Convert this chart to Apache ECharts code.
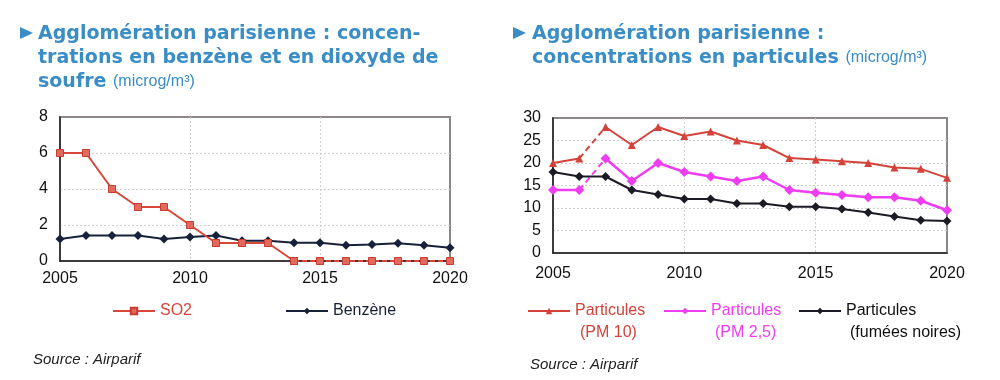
<!DOCTYPE html>
<html>
<head>
<meta charset="utf-8">
<script src="https://cdn.jsdelivr.net/npm/echarts@6/dist/echarts.min.js"></script>
<style>
html,body{margin:0;padding:0;background:#fff;}
#chart{width:1000px;height:380px;}
</style>
</head>
<body>
<div id="chart"></div>
<script>
// ---- Data ----
const years = [2005,2006,2007,2008,2009,2010,2011,2012,2013,2014,2015,2016,2017,2018,2019,2020];
const so2 = [6,6,4,3,3,2,1,1,1,0,0,0,0,0,0,0];
const benzene = [1.22,1.42,1.42,1.42,1.22,1.33,1.42,1.13,1.13,1.02,1.02,0.87,0.92,0.98,0.87,0.74];
const pm10 = [20,21,28,24,28,26,27,25,24,21.1,20.8,20.4,20,19,18.7,16.7];
const pm25 = [14,14,21,16,20,18,17,16,17,14,13.4,12.9,12.4,12.4,11.6,9.5];
const fumees = [18,17,17,14,13,12,12,11,11,10.3,10.3,9.8,9,8.1,7.3,7.1];
const xTicks = [2005,2010,2015,2020];
const leftTicks = [0,2,4,6,8];
const rightTicks = [0,5,10,15,20,25,30];
const legendLine1 = 'Particules';
const legendLine2 = ['(PM 10)', '(PM 2,5)', '(fumées noires)'];

const FONT = 'Liberation Sans';
const TFONT = 'DejaVu Sans';
const BLUE = '#3a8dc5';
const C_SO2 = '#d9473b';
const C_BENZ = '#17213a';
const C_PM10 = '#d4433a';
const C_PM25 = '#ee3df0';
const C_FUM = '#1b1b26';

function seg(vals, a, b){
  return years.map((y,i)=>[y, (i>=a && i<=b) ? vals[i] : null]);
}
function all(vals){ return years.map((y,i)=>[y, vals[i]]); }

function xAxis(gi, margin){
  return {
    type:'value', gridIndex:gi, min:xTicks[0], max:xTicks[xTicks.length-1], interval:5,
    axisLine:{show:true, onZero:false, lineStyle:{color:'#222', width:1.5}},
    axisTick:{show:false},
    axisLabel:{color:'#111', fontSize:16, fontFamily:FONT, margin:margin, formatter:v=>String(v)},
    splitLine:{show:true, showMinLine:false, showMaxLine:false,
      lineStyle:{color:'#cfcfcf', type:[2,2], width:1}}
  };
}
function yAxis(gi, ticks){
  return {
    type:'value', gridIndex:gi, min:ticks[0], max:ticks[ticks.length-1], interval:ticks[1]-ticks[0],
    axisLine:{show:true, onZero:false, lineStyle:{color:'#222', width:1.5}},
    axisTick:{show:false},
    axisLabel:{color:'#111', fontSize:16, fontFamily:FONT, margin:12},
    splitLine:{show:true, showMinLine:false, showMaxLine:false,
      lineStyle:{color:'#cfcfcf', type:[2,2], width:1}}
  };
}

function legend(name, left, top, color, multi){
  return {
    data:[{name:name, textStyle:{color:color}}],
    left:left, top:top, itemWidth:42, itemHeight:8, itemGap:0, padding:0,
    textStyle:{color:color, fontSize:16, fontFamily:FONT},
    formatter: multi ? (()=>legendLine1) : undefined
  };
}
function line2(i, x, color){
  return {type:'text', left:x, top:325, style:{text:legendLine2[i], fill:color, font:'16px "Liberation Sans"'}};
}

const option = {
  animation:false,
  backgroundColor:'#fff',
  textStyle:{fontFamily:FONT},
  title:[
    {
      text:'Agglomération parisienne : concen-\ntrations en benzène et en dioxyde de\nsoufre {u|(microg/m³)}',
      left:38, top:22, padding:0,
      textStyle:{color:BLUE, fontSize:19, fontWeight:'bold', fontFamily:TFONT, lineHeight:24,
        rich:{u:{color:BLUE, fontSize:16, fontWeight:'normal', fontFamily:FONT, lineHeight:24}}}
    },
    {
      text:'Agglomération parisienne :\nconcentrations en particules {u|(microg/m³)}',
      left:532, top:22, padding:0,
      textStyle:{color:BLUE, fontSize:19, fontWeight:'bold', fontFamily:TFONT, lineHeight:24,
        rich:{u:{color:BLUE, fontSize:16, fontWeight:'normal', fontFamily:FONT, lineHeight:24}}}
    },
    {
      text:'Source : Airparif', left:33, top:352, padding:0,
      textStyle:{color:'#222', fontSize:15, fontStyle:'italic', fontWeight:'normal', fontFamily:FONT}
    },
    {
      text:'Source : Airparif', left:530, top:357, padding:0,
      textStyle:{color:'#222', fontSize:15, fontStyle:'italic', fontWeight:'normal', fontFamily:FONT}
    }
  ],
  graphic:[
    {type:'polygon', shape:{points:[[20,27],[33,33],[20,39]]}, style:{fill:BLUE}},
    {type:'polygon', shape:{points:[[513,27],[526,33],[513,39]]}, style:{fill:BLUE}},
    line2(0, 580, C_PM10),
    line2(1, 715, C_PM25),
    line2(2, 850, '#111')
  ],
  legend:[
    legend('SO2', 112, 303, C_SO2, false),
    legend('Benzène', 285, 303, C_BENZ, false),
    legend('Particules (PM 10)', 527, 303, C_PM10, true),
    legend('Particules (PM 2,5)', 663, 303, C_PM25, true),
    legend('Particules (fumées noires)', 798, 303, '#111', true)
  ],
  grid:[
    {left:60, right:550, top:117, bottom:119, show:true, borderColor:'#8d8787', borderWidth:2, backgroundColor:'#fff'},
    {left:553, right:53, top:118, bottom:127, show:true, borderColor:'#8d8787', borderWidth:2, backgroundColor:'#fff'}
  ],
  xAxis:[xAxis(0,10), xAxis(1,13)],
  yAxis:[yAxis(0,leftTicks), yAxis(1,rightTicks)],
  series:[
    {name:'Benzène', type:'line', xAxisIndex:0, yAxisIndex:0, data:all(benzene),
      symbol:'diamond', symbolSize:9, lineStyle:{color:C_BENZ, width:2},
      itemStyle:{color:C_BENZ}, z:3},
    {name:'SO2', type:'line', xAxisIndex:0, yAxisIndex:0, data:seg(so2,0,9),
      symbol:'rect', symbolSize:7, lineStyle:{color:C_SO2, width:2},
      itemStyle:{color:'#e06a5d', borderColor:'#c93a2f', borderWidth:1}, z:4},
    {name:'SO2 tail', type:'line', xAxisIndex:0, yAxisIndex:0, data:seg(so2,9,15),
      symbol:'rect', symbolSize:7, lineStyle:{color:C_SO2, width:2, type:[5,3]},
      itemStyle:{color:'#e06a5d', borderColor:'#c93a2f', borderWidth:1}, z:4},
    {name:'Particules (PM 10)', type:'line', xAxisIndex:1, yAxisIndex:1, data:seg(pm10,0,1),
      symbol:'triangle', symbolSize:8, lineStyle:{color:C_PM10, width:2}, itemStyle:{color:C_PM10}, z:4},
    {name:'Particules (PM 10)', type:'line', xAxisIndex:1, yAxisIndex:1, data:seg(pm10,2,15),
      symbol:'triangle', symbolSize:8, lineStyle:{color:C_PM10, width:2}, itemStyle:{color:C_PM10}, z:4},
    {name:'pm10 dash', type:'line', xAxisIndex:1, yAxisIndex:1, data:seg(pm10,1,2),
      showSymbol:false, symbol:'none', lineStyle:{color:C_PM10, width:2, type:[6,4]}, z:3},
    {name:'Particules (PM 2,5)', type:'line', xAxisIndex:1, yAxisIndex:1, data:seg(pm25,0,1),
      symbol:'diamond', symbolSize:10, lineStyle:{color:C_PM25, width:2.5}, itemStyle:{color:C_PM25}, z:4},
    {name:'Particules (PM 2,5)', type:'line', xAxisIndex:1, yAxisIndex:1, data:seg(pm25,2,15),
      symbol:'diamond', symbolSize:10, lineStyle:{color:C_PM25, width:2.5}, itemStyle:{color:C_PM25}, z:4},
    {name:'pm25 dash', type:'line', xAxisIndex:1, yAxisIndex:1, data:seg(pm25,1,2),
      showSymbol:false, symbol:'none', lineStyle:{color:C_PM25, width:2, type:[6,4]}, z:3},
    {name:'Particules (fumées noires)', type:'line', xAxisIndex:1, yAxisIndex:1, data:all(fumees),
      symbol:'diamond', symbolSize:9, lineStyle:{color:C_FUM, width:2}, itemStyle:{color:C_FUM}, z:3}
  ]
};

const chart = echarts.init(document.getElementById('chart'), null, {renderer:'canvas'});
chart.setOption(option);
</script>
</body>
</html>
